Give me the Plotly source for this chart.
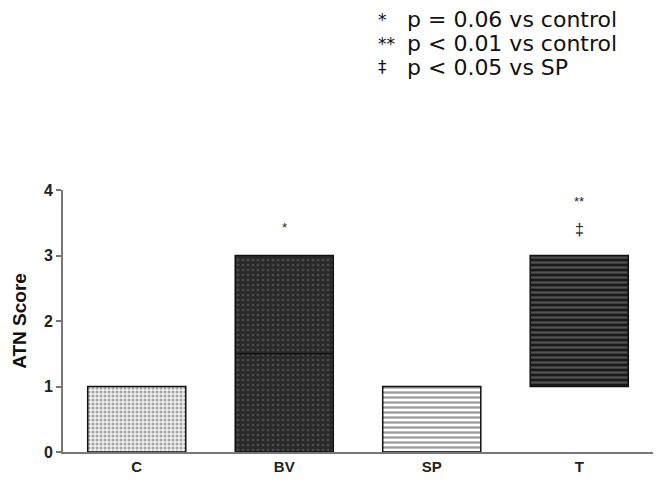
import plotly.graph_objects as go

categories = ["C", "BV", "SP", "T"]
box_low = [0, 0, 0, 1]
box_high = [1, 3, 1, 3]
medians = [None, 1.5, None, None]
sig_marks = ["*", "**", "‡"]
sig_cats = ["BV", "T", "T"]
sig_y = [3.43, 3.83, 3.4]
legend_symbols = ["*", "**", "‡"]
legend_texts = ["p = 0.06 vs control", "p < 0.01 vs control", "p < 0.05 vs SP"]
tick_vals = [0, 1, 2, 3, 4]

patterns = [
    dict(shape=".", fgcolor="#555555", bgcolor="#f0f0f0", size=4, solidity=0.45),
    dict(shape="+", fgcolor="#050505", bgcolor="#4a4a4a", size=5, solidity=0.7),
    dict(shape="-", fgcolor="#333333", bgcolor="#ffffff", size=5, solidity=0.45),
    dict(shape="-", fgcolor="#8a8a8a", bgcolor="#1a1a1a", size=5, solidity=0.45),
]

fig = go.Figure()
for i, cat in enumerate(categories):
    fig.add_trace(go.Bar(
        x=[cat], y=[box_high[i] - box_low[i]], base=[box_low[i]],
        width=0.665,
        marker=dict(color=patterns[i]["bgcolor"], pattern=patterns[i],
                    line=dict(color="#111111", width=1.5)),
        showlegend=False, hoverinfo="skip",
    ))

for i, cat in enumerate(categories):
    if medians[i] is not None:
        fig.add_shape(type="line", xref="x", yref="y",
                      x0=i - 0.3325, x1=i + 0.3325, y0=medians[i], y1=medians[i],
                      line=dict(color="#111111", width=1.5))

for m, c, yv in zip(sig_marks, sig_cats, sig_y):
    fig.add_annotation(x=c, y=yv, text=m, showarrow=False,
                       font=dict(family="Arial", size=16 if m == "‡" else 13,
                                 color="#222222"))

for j, (s, t) in enumerate(zip(legend_symbols, legend_texts)):
    yy = 20 + j * 23.5
    fig.add_annotation(xref="paper", yref="paper", x=(376 - 63) / 590, y=1 + (190 - yy) / 262,
                       text=s, showarrow=False, xanchor="left", yanchor="middle",
                       font=dict(family="DejaVu Sans", size=17, color="#111111"))
    fig.add_annotation(xref="paper", yref="paper", x=(405 - 63) / 590, y=1 + (190 - yy) / 262,
                       text=t, showarrow=False, xanchor="left", yanchor="middle",
                       font=dict(family="DejaVu Sans", size=22, color="#111111"))

fig.update_layout(
    width=662, height=485,
    margin=dict(l=63, r=9, t=190, b=33),
    paper_bgcolor="white", plot_bgcolor="white",
    bargap=0.335,
    font=dict(family="Arial", color="#222222"),
)
fig.update_xaxes(range=[-0.5, 3.5], showline=True, linecolor="#777777", linewidth=2,
                 ticks="", showgrid=False, zeroline=False, automargin=False,
                 tickvals=categories, ticktext=["<b>%s</b>" % c for c in categories],
                 tickfont=dict(family="Arial", size=15, color="#222222"))
fig.update_yaxes(range=[0, 4], tickvals=tick_vals, ticktext=["<b>%d</b>" % v for v in tick_vals],
                 showline=True, linecolor="#777777", automargin=False,
                 linewidth=2, ticks="outside", ticklen=5, tickcolor="#777777", tickwidth=2,
                 showgrid=False, zeroline=False,
                 tickfont=dict(family="Arial", size=16, color="#222222"),
                 title=dict(text="<b>ATN Score</b>", font=dict(family="Arial", size=19, color="#111111"),
                            standoff=12))

fig.write_html("out.html", config={"displayModeBar": False},
               post_script="document.body.style.margin='0';")
